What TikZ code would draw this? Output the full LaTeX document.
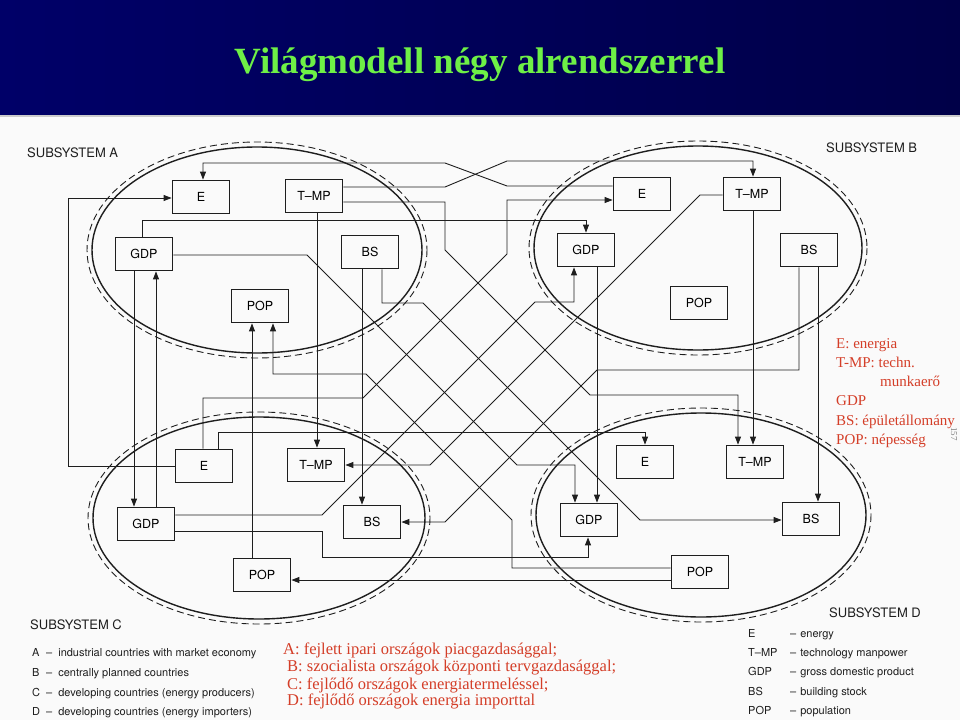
\documentclass[tikz,border=0pt]{standalone}
\usepackage{fontspec}
\setmainfont{Liberation Serif}
\setsansfont{TeX Gyre Heros}
\usepackage{tikz}
\usetikzlibrary{arrows.meta, positioning}
\definecolor{azultitulo}{RGB}{0,0,104}
\definecolor{azuloscuro}{RGB}{0,0,72}
\definecolor{verdetitulo}{RGB}{110,240,70}
\definecolor{rojotexto}{RGB}{212,62,40}
\definecolor{tinta}{RGB}{30,30,30}
\definecolor{papel}{RGB}{250,250,250}
\tikzset{
    box_modulo/.style={rectangle, draw=tinta, line width=1.8pt, minimum width=57pt, minimum height=33pt, inner sep=0pt, font=\fontsize{12.5}{12.5}\selectfont\sffamily},
    linea/.style={draw=tinta, line width=0.9pt},
    flecha/.style={linea, -{Triangle[length=8pt,width=6pt]}},
    elipse_solida/.style={draw=tinta, line width=1.4pt},
    elipse_trazos/.style={draw=tinta, line width=0.9pt, dash pattern=on 7pt off 4pt},
    txt_subsistema/.style={anchor=base west, inner sep=0pt, text=tinta, font=\fontsize{13}{13}\selectfont\sffamily},
    txt_leyenda/.style={anchor=base west, inner sep=0pt, text=tinta, font=\fontsize{11}{11}\selectfont\sffamily},
    txt_rojo/.style={anchor=base west, inner sep=0pt, text=rojotexto, font=\fontsize{16.5}{16.5}\selectfont}
}

\begin{document}
\begin{tikzpicture}[x=1pt, y=-1pt]

    % Marco y titulo
    \useasboundingbox (0,0) rectangle (960,720);
    \fill[left color=azultitulo, right color=azuloscuro] (0,0) rectangle (960,115);
    \fill[gray!40] (0,115) rectangle (960,117);
    \fill[papel] (0,117) rectangle (960,720);
    \node[font=\fontsize{37}{40}\selectfont\bfseries, text=verdetitulo] (titulo) at (480,65) {Világmodell négy alrendszerrel};

    % 1. Elipses de los subsistemas (linea solida + linea de trazos)
    \draw[elipse_solida] (257,250) ellipse [x radius=165, y radius=103];
    \draw[elipse_trazos] (257,250) ellipse [x radius=170, y radius=108];
    \draw[elipse_solida] (698,248) ellipse [x radius=164, y radius=102];
    \draw[elipse_trazos] (698,248) ellipse [x radius=169, y radius=107];
    \draw[elipse_solida] (259,518) ellipse [x radius=166, y radius=101];
    \draw[elipse_trazos] (259,518) ellipse [x radius=171, y radius=106];
    \draw[elipse_solida] (701,515) ellipse [x radius=165, y radius=102];
    \draw[elipse_trazos] (701,515) ellipse [x radius=170, y radius=107];

    % 2. Cajas: subsistema A
    \node[box_modulo] (aE) at (201,197) {E};
    \node[box_modulo] (aTMP) at (314,196) {T–MP};
    \node[box_modulo] (aGDP) at (144,254) {GDP};
    \node[box_modulo] (aBS) at (370,252) {BS};
    \node[box_modulo] (aPOP) at (260,306) {POP};

    % Subsistema B
    \node[box_modulo] (bE) at (642,194) {E};
    \node[box_modulo] (bTMP) at (752,194) {T–MP};
    \node[box_modulo] (bGDP) at (586,250) {GDP};
    \node[box_modulo] (bBS) at (809,250) {BS};
    \node[box_modulo] (bPOP) at (699,303) {POP};

    % Subsistema C
    \node[box_modulo] (cE) at (204,466) {E};
    \node[box_modulo] (cTMP) at (316,465) {T–MP};
    \node[box_modulo] (cGDP) at (146,524) {GDP};
    \node[box_modulo] (cBS) at (372,522) {BS};
    \node[box_modulo] (cPOP) at (262,575) {POP};

    % Subsistema D
    \node[box_modulo] (dE) at (645,462) {E};
    \node[box_modulo] (dTMP) at (755,462) {T–MP};
    \node[box_modulo] (dGDP) at (589,520) {GDP};
    \node[box_modulo] (dBS) at (811,519) {BS};
    \node[box_modulo] (dPOP) at (700,572) {POP};

    % --- CONEXIONES ---

    % Cruce superior entre A y B
    \draw[flecha] ([yshift=8pt]bE.west) -- (507,186) -- (445,163) -- (203,163) -- ([xshift=2pt]aE.north);
    \draw[flecha] ([yshift=9pt]aTMP.east) -- (445,187) -- (507,161) -- (753,161) -- ([xshift=1pt]bTMP.north);
    \draw[flecha] ([yshift=-6pt]aTMP.east) -- (445,202) -- (445,250) -- (590,395) -- (738,395) -- ([xshift=-17pt]dTMP.north);
    \draw[flecha] (cE.west) -- (68,466) |- ([yshift=-1pt]aE.west);

    % Salidas de GDP (A)
    \draw[flecha] ([xshift=-2pt]aGDP.north) -- (142,220) -- (586,220) -- (bGDP.north);
    \draw[flecha] ([yshift=-1pt]aGDP.east) -- (307,255) -- (517,465) -- (575,465) -- ([xshift=-14pt]dGDP.north);
    \draw[flecha] ([xshift=-10pt]aGDP.south) -- ([xshift=-12pt]cGDP.north);
    \draw[flecha] ([xshift=10pt]cGDP.north) -- ([xshift=12pt]aGDP.south);

    % Bajadas verticales de A hacia C
    \draw[flecha] ([xshift=3pt]aTMP.south) -- ([xshift=1pt]cTMP.north);
    \draw[flecha] ([xshift=-8pt]aBS.south) -- ([xshift=-10pt]cBS.north);
    \draw[flecha] ([xshift=-10pt]cPOP.north) -- ([xshift=-8pt]aPOP.south);

    % Diagonales del centro
    \draw[flecha] ([xshift=12pt]aBS.south) -- (382,303) -- (423,303) -- (640,520) -- ([yshift=-1pt]dBS.west);
    \draw[flecha] ([yshift=4pt]dPOP.west) -- (512,568) -- (512,520) -- (366,374) -- (273,374) -- ([xshift=13pt]aPOP.south);
    \draw[flecha] ([xshift=-1pt]cE.north) -- (203,398) -- (363,398) -- (507,254) -- (507,200) -- ([yshift=-6pt]bE.west);
    \draw[flecha] ([xshift=14pt]cE.north) -- (218,432) -- (645,432) -- (dE.north);
    \draw[flecha] ([yshift=-1pt]bTMP.west) -- (700,195) -- (430,465) -- (cTMP.east);
    \draw[flecha] ([xshift=-10pt]bBS.south) -- (799,370) -- (597,370) -- (445,522) -- (cBS.east);
    \draw[flecha] ([yshift=9pt]cGDP.east) -- (322,515) -- (535,302) -- (574,302) -- ([xshift=-12pt]bGDP.south);
    \draw[flecha] ([yshift=-7pt]cGDP.east) -- (322,531) -- (322,557) -- (588,557) -- ([xshift=-1pt]dGDP.south);
    \draw[flecha] ([yshift=-8pt]dPOP.west) -- ([yshift=-5pt]cPOP.east);

    % Bajadas verticales de B hacia D
    \draw[flecha] ([xshift=9pt]bBS.south) -- ([xshift=7pt]dBS.north);
    \draw[flecha] ([xshift=1pt]bTMP.south) -- ([xshift=-2pt]dTMP.north);
    \draw[flecha] ([xshift=11pt]bGDP.south) -- ([xshift=8pt]dGDP.north);

    % 3. Rotulos de los subsistemas
    \node[txt_subsistema] (subA) at (27,157) {SUBSYSTEM A};
    \node[txt_subsistema] (subB) at (826,152) {SUBSYSTEM B};
    \node[txt_subsistema] (subC) at (30,629) {SUBSYSTEM C};
    \node[txt_subsistema] (subD) at (829,617) {SUBSYSTEM D};

    % Leyenda izquierda
    \node[txt_leyenda] (leyA) at (32,656) {A};
    \node[txt_leyenda] (leyAt) at (46,656) {–\hspace{6pt}industrial countries with market economy};
    \node[txt_leyenda] (leyB) at (32,676) {B};
    \node[txt_leyenda] (leyBt) at (46,676) {–\hspace{6pt}centrally planned countries};
    \node[txt_leyenda] (leyC) at (32,696) {C};
    \node[txt_leyenda] (leyCt) at (46,696) {–\hspace{6pt}developing countries (energy producers)};
    \node[txt_leyenda] (leyD) at (32,715) {D};
    \node[txt_leyenda] (leyDt) at (46,715) {–\hspace{6pt}developing countries (energy importers)};

    % Leyenda derecha
    \node[txt_leyenda] (leyE) at (748,637) {E};
    \node[txt_leyenda] (leyEt) at (790,637) {–\hspace{4pt}energy};
    \node[txt_leyenda] (leyT) at (748,656) {T–MP};
    \node[txt_leyenda] (leyTt) at (790,656) {–\hspace{4pt}technology manpower};
    \node[txt_leyenda] (leyG) at (748,675) {GDP};
    \node[txt_leyenda] (leyGt) at (790,675) {–\hspace{4pt}gross domestic product};
    \node[txt_leyenda] (leyS) at (748,695) {BS};
    \node[txt_leyenda] (leySt) at (790,695) {–\hspace{4pt}building stock};
    \node[txt_leyenda] (leyP) at (748,714) {POP};
    \node[txt_leyenda] (leyPt) at (790,714) {–\hspace{4pt}population};

    % Notas en rojo
    \node[txt_rojo] (rojoA) at (283,654) {A: fejlett ipari országok piacgazdasággal;};
    \node[txt_rojo] (rojoB) at (287,671) {B: szocialista országok központi tervgazdasággal;};
    \node[txt_rojo] (rojoC) at (287,689) {C: fejlődő országok energiatermeléssel;};
    \node[txt_rojo] (rojoD) at (287,705) {D: fejlődő országok energia importtal};

    \node[txt_rojo, font=\fontsize{15}{15}\selectfont] (nE) at (836,348) {E: energia};
    \node[txt_rojo, font=\fontsize{15}{15}\selectfont] (nT) at (836,367) {T-MP: techn.};
    \node[txt_rojo, font=\fontsize{15}{15}\selectfont] (nT2) at (880,386) {munkaerő};
    \node[txt_rojo, font=\fontsize{15}{15}\selectfont] (nG) at (836,405) {GDP};
    \node[txt_rojo, font=\fontsize{15}{15}\selectfont] (nB) at (836,425) {BS: épületállomány};
    \node[txt_rojo, font=\fontsize{15}{15}\selectfont] (nP) at (836,444) {POP: népesség};

    % Numero de pagina escaneado
    \node[rotate=-90, font=\fontsize{9}{9}\selectfont, text=gray] (pagina) at (954,434) {157};

\end{tikzpicture}
\end{document}
